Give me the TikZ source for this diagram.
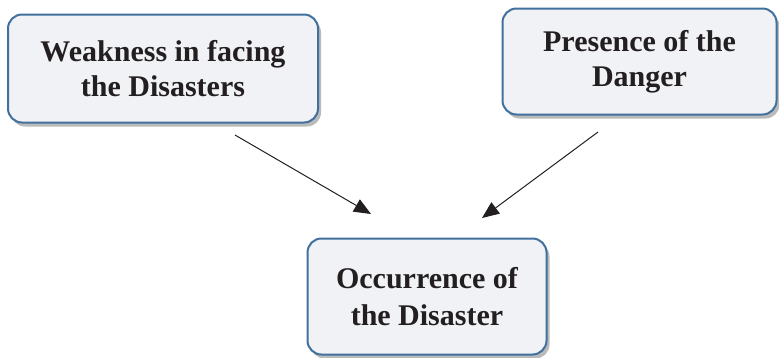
\documentclass[tikz,border=0pt]{standalone}
\usepackage{fontspec}
\setmainfont{Liberation Serif}
\usetikzlibrary{arrows.meta,shadows}
\definecolor{boxborder}{HTML}{41709F}
\definecolor{boxfill}{HTML}{F0F2F5}
\definecolor{txt}{HTML}{231F20}
\tikzset{
  box/.style={draw=boxborder, line width=2pt, fill=boxfill, rounded corners=14pt,
    align=center, text=txt, inner sep=0pt,
    font=\fontsize{30}{35}\selectfont\bfseries,
    drop shadow={shadow xshift=3pt, shadow yshift=-4pt, opacity=0.45, fill=black!60}},
  arr/.style={line width=1pt, draw=txt, -{Triangle[length=17pt,width=14pt]}}
}
\begin{document}
\begin{tikzpicture}[x=1pt,y=-1pt]
\useasboundingbox (0,0) rectangle (779,357);
\node[box, minimum width=310pt, minimum height=108pt] (tl) at (163,68.5) {Weakness in facing\\the Disasters};
\node[box, minimum width=274pt, minimum height=106pt] (tr) at (639.5,61.5) {Presence of the\\Danger};
\node[box, minimum width=239pt, minimum height=116pt, font=\fontsize{30}{37}\selectfont\bfseries] (bt) at (427,296.5) {Occurrence of\\the Disaster};
\coordinate (a1s) at (235,135);
\coordinate (a1e) at (371,214);
\coordinate (a2s) at (598,132);
\coordinate (a2e) at (482,218);
\draw[arr] (a1s) -- (a1e);
\draw[arr] (a2s) -- (a2e);
\end{tikzpicture}
\end{document}
